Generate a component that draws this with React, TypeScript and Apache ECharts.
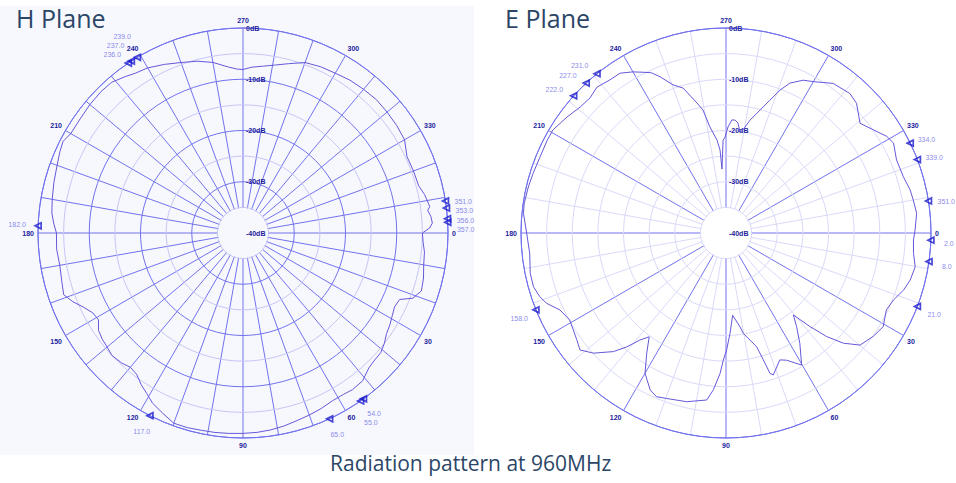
import React, { useEffect, useRef } from "react";
import * as echarts from "echarts";

// ---------------- data (angle in degrees, level in dB) ----------------
const H_ANGLES = [0, 3, 6, 10, 14, 18, 21, 23, 26, 29, 32, 35, 38, 41, 44, 47, 51, 55, 58, 62, 66, 70, 74, 78, 82, 86, 90, 94, 98, 102, 106, 110, 114, 118, 121, 124, 127, 130, 133, 137, 140, 143, 146, 149, 152, 155, 158, 161, 165, 170, 175, 180, 183, 186, 190, 195, 200, 204, 207, 210, 215, 220, 225, 229, 233, 236, 240, 245, 250, 255, 260, 265, 268, 270, 273, 277, 281, 285, 290, 295, 300, 305, 310, 315, 320, 325, 330, 335, 340, 345, 348, 350, 352, 353, 355, 357, 358.5];
const H_DB = [-5.0, -4.8, -4.4, -4.2, -3.7, -3.4, -4.5, -6.8, -7.1, -6.7, -6.2, -5.8, -5.0, -4.4, -4.3, -4.0, -2.9, -2.7, -2.9, -2.9, -2.5, -2.2, -1.9, -1.5, -1.2, -1.0, -0.9, -0.8, -0.7, -0.65, -0.5, -0.5, -1.5, -2.4, -3.5, -4.4, -5.5, -5.8, -5.3, -5.0, -5.4, -5.6, -6.0, -7.1, -6.8, -5.7, -4.2, -3.0, -3.4, -3.7, -3.5, -3.6, -3.0, -2.5, -2.2, -1.8, -1.4, -0.9, -0.6, -1.2, -1.2, -1.0, -0.9, -1.0, -1.8, -2.4, -2.8, -3.7, -4.6, -5.3, -6.2, -7.5, -8.0, -8.1, -7.6, -7.2, -6.6, -5.8, -4.6, -4.2, -4.0, -3.6, -3.4, -3.2, -3.3, -3.4, -3.6, -4.7, -4.6, -4.5, -3.8, -3.5, -3.2, -3.7, -3.2, -3.0, -3.6];

const E_ANGLES = [2.1, 6.2, 10.1, 14.3, 17.8, 21.8, 25.6, 30.8, 35.1, 39.9, 43.2, 45.8, 48.1, 50.6, 53, 56.2, 60.2, 64.5, 67, 71.6, 72.6, 73.6, 74.9, 80.2, 81.5, 85.4, 87.7, 89.7, 91.2, 92.4, 94.6, 96.6, 103.1, 109.7, 113, 115.8, 120, 123.4, 126.5, 128.8, 131.1, 133.5, 137.8, 141.3, 144.4, 147.6, 150.9, 155.1, 158.6, 161.1, 164.4, 168.4, 174.1, 180, 185.5, 188.3, 193.1, 197.2, 202.3, 207.4, 210.8, 216.1, 220.8, 224.8, 228.5, 232.8, 236.5, 240, 242.7, 245, 247.1, 250.3, 253.5, 257.4, 259.4, 261.4, 264.5, 265.9, 266.4, 268.2, 269.4, 271.1, 273, 274.6, 276.2, 277.9, 279.4, 282, 285.5, 288.3, 290.7, 293.1, 296.8, 300, 305.6, 311.6, 315.2, 320.7, 325, 329, 331.8, 336.8, 342.4, 346.8, 350, 354.1, 359.1];
const E_DB = [-3.4, -3.2, -2.5, -2.9, -3.6, -4.8, -5.3, -4.3, -4.9, -5.9, -8.6, -11.8, -15.5, -19.3, -17.1, -14.1, -10.3, -12.5, -13.1, -10.8, -11.3, -14.2, -17.0, -20.1, -21.5, -23.9, -20.4, -17.2, -15.2, -12.6, -9.3, -7.2, -6.2, -5.7, -5.3, -6.0, -8.4, -11.9, -14.8, -13.2, -10.5, -8.1, -5.1, -3.5, -4.2, -4.7, -5.1, -4.3, -2.4, -1.6, -1.0, -1.0, -1.5, -1.1, -0.3, -0.2, -0.4, -0.6, -0.8, -0.7, -0.7, -1.6, -2.4, -2.6, -2.0, -2.5, -2.6, -3.7, -4.7, -5.5, -6.9, -9.3, -10.5, -14.0, -15.6, -19.1, -21.8, -23.8, -27.5, -21.9, -21.3, -19.3, -17.9, -17.9, -18.4, -20.1, -19.6, -17.5, -15.1, -12.7, -10.2, -8.2, -6.6, -5.9, -4.1, -3.6, -4.1, -6.2, -4.9, -3.4, -2.9, -3.8, -3.7, -3.1, -2.9, -2.6, -3.1];

const H_MARKERS = [351, 353, 356, 357, 182, 117, 65, 54, 55, 236, 237, 239];
const E_MARKERS = [231, 227, 222, 334, 339, 351, 2, 8, 21, 158];

const ANGLE_LABEL_STEP = 30;
const RADIUS_MIN = -40;
const RADIUS_MAX = 0;

// ---------------- styles / layout ----------------
const POLAR_RADIUS = 205;
const DARK = "#7272ee";
const LIGHT = "#c6c6f6";
const LIGHTER = "#d9d9fa";
const CURVE = "#6458d8";
const LABEL = "#22229c";
const MARK = "#1a1acc";
const MARK_LABEL = "#6a6ae6";
const TITLE = "#2c4667";
const PANEL_BG = "#f7f8fd";
const LABEL_GAP = 9;

// shift so that 0 deg points east, increasing clockwise, with the axis start at the top
const toAxisAngle = (t: number) => (t + 90) % 360;

function curveData(angles: number[], db: number[]) {
  const d = angles.map((a, i) => [db[i], toAxisAngle(a)]);
  d.push(d[0]);
  return d;
}

function markerData(markers: number[]) {
  return markers.map((a) => [RADIUS_MAX, toAxisAngle(a)]);
}

// label offsets: pushed outward along the radius, stacked when markers are close together
function labelOffsets(angles: number[]) {
  const rad = (a: number) => (a * Math.PI) / 180;
  const base = angles.map((a) => {
    const ux = Math.cos(rad(a));
    const uy = Math.sin(rad(a));
    const farLeft = ux < -0.95;
    const dx = ux * (farLeft ? 21 : 18) + (ux < 0 && uy < 0 && !farLeft ? -6 : 0);
    const dy = uy * 14 + (farLeft ? -1 : 3);
    return [dx, dy];
  });
  const extra = angles.map(() => 0);
  const order = angles.map((_, i) => i).sort((i, j) => angles[i] - angles[j]);
  let prevY: number | null = null;
  let prevA = -100;
  for (const i of order) {
    const a = angles[i];
    const y = Math.sin(rad(a)) * POLAR_RADIUS + base[i][1];
    if (prevY !== null && a - prevA < 6) {
      const s = Math.cos(rad(a)) >= 0 ? 1 : -1;
      if (s * (y - prevY) < LABEL_GAP) {
        extra[i] = prevY + s * LABEL_GAP - y;
      }
    }
    prevY = y + extra[i];
    prevA = a;
  }
  return base.map((b, i) => [b[0], b[1] + extra[i]]);
}

function angleAxis(idx: number, splitColors: string[] | string) {
  return {
    polarIndex: idx,
    type: "value",
    min: 0,
    max: 360,
    interval: 10,
    startAngle: 90,
    clockwise: true,
    axisLine: { show: true, lineStyle: { color: DARK, width: 1 } },
    axisTick: { show: false },
    axisLabel: {
      margin: 4,
      fontSize: 7,
      fontWeight: "bold",
      fontFamily: "Liberation Sans",
      color: LABEL,
      formatter: (v: number) => {
        if (v === 360) return "";
        const t = (v + 270) % 360;
        return t % ANGLE_LABEL_STEP === 0 ? String(t) : "";
      },
    },
    splitLine: { show: true, lineStyle: { color: splitColors, width: 1 } },
  };
}

function radiusAxis(idx: number, circleColors: string[] | string) {
  return {
    polarIndex: idx,
    type: "value",
    min: RADIUS_MIN,
    max: RADIUS_MAX,
    interval: 5,
    z: 3,
    axisLine: { show: false },
    axisTick: { show: false },
    axisLabel: {
      align: "left",
      margin: -3,
      fontSize: 7,
      fontWeight: "bold",
      fontFamily: "Liberation Sans",
      color: LABEL,
      formatter: (v: number) => (v % 10 === 0 ? `${v}dB` : ""),
    },
    splitLine: { show: true, lineStyle: { color: circleColors, width: 1 } },
  };
}

function hole(center: number[], color: string) {
  return {
    type: "pie",
    center,
    radius: [0, 25],
    silent: true,
    z: 2,
    label: { show: false },
    labelLine: { show: false },
    emphasis: { disabled: true },
    itemStyle: { color, borderWidth: 0 },
    data: [{ value: 1, name: "hole" }],
  };
}

function curve(idx: number, data: number[][]) {
  return {
    type: "line",
    coordinateSystem: "polar",
    polarIndex: idx,
    data,
    symbol: "none",
    z: 4,
    lineStyle: { color: CURVE, width: 1 },
  };
}

function markers(idx: number, angles: number[]) {
  const offsets = labelOffsets(angles);
  return {
    type: "scatter",
    coordinateSystem: "polar",
    polarIndex: idx,
    data: markerData(angles),
    symbol: "triangle",
    symbolSize: 6,
    symbolRotate: 90,
    z: 5,
    itemStyle: { color: "rgba(0,0,0,0)", borderColor: MARK, borderWidth: 1.7 },
    label: {
      show: true,
      position: "inside",
      fontSize: 7,
      fontFamily: "Liberation Sans",
      color: MARK_LABEL,
      formatter: (p: any) => ((p.value[1] + 270) % 360).toFixed(1),
    },
    labelLayout: (p: any) => ({
      dx: offsets[p.dataIndex][0],
      dy: offsets[p.dataIndex][1],
    }),
  };
}

export default function App() {
  const ref = useRef<HTMLDivElement>(null);

  useEffect(() => {
    if (!ref.current) return;
    const chart = echarts.init(ref.current, undefined, { renderer: "svg" });
    const titleStyle = { fontFamily: "Open Sans", fontWeight: "normal", color: TITLE };
    const option: any = {
      animation: false,
      title: [
        { text: "H Plane", left: 16, top: 5, padding: 0, textStyle: { ...titleStyle, fontSize: 25 } },
        { text: "E Plane", left: 505, top: 5, padding: 0, textStyle: { ...titleStyle, fontSize: 25 } },
        { text: "Radiation pattern at 960MHz", left: 330, top: 452, padding: 0, textStyle: { ...titleStyle, fontSize: 21 } },
      ],
      polar: [
        { center: [243, 233], radius: [0, POLAR_RADIUS] },
        { center: [726, 233], radius: [0, POLAR_RADIUS] },
      ],
      angleAxis: [angleAxis(0, DARK), angleAxis(1, [DARK, LIGHTER, LIGHTER])],
      radiusAxis: [
        radiusAxis(0, [DARK, LIGHT]),
        radiusAxis(1, [LIGHTER, LIGHTER, LIGHTER, LIGHTER, LIGHTER, LIGHTER, LIGHTER, LIGHTER, DARK]),
      ],
      series: [
        hole([243, 233], PANEL_BG),
        hole([726, 233], "#ffffff"),
        curve(0, curveData(H_ANGLES, H_DB)),
        curve(1, curveData(E_ANGLES, E_DB)),
        markers(0, H_MARKERS),
        markers(1, E_MARKERS),
      ],
    };
    chart.setOption(option);
    return () => chart.dispose();
  }, []);

  return (
    <div style={{ position: "fixed", left: 0, top: 0, width: 956, height: 483, background: "#ffffff" }}>
      <div style={{ position: "absolute", left: 0, top: 6, width: 474, height: 449, background: PANEL_BG }} />
      <div ref={ref} style={{ position: "absolute", left: 0, top: 0, width: 956, height: 483 }} />
    </div>
  );
}
